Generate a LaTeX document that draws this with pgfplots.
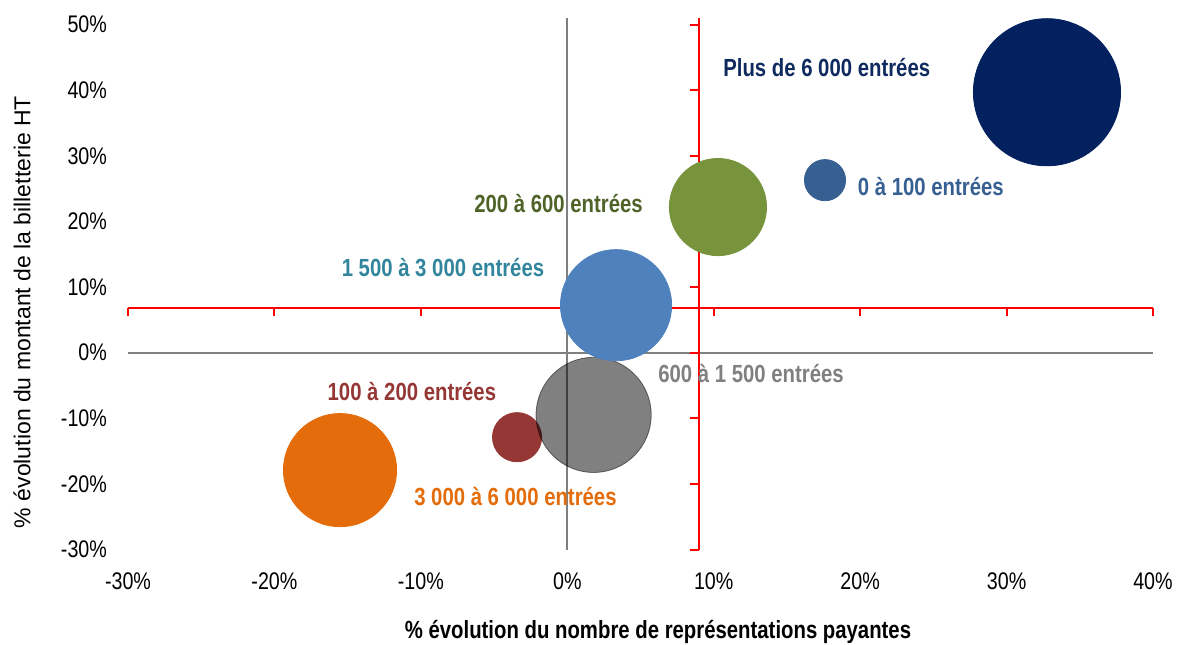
\documentclass[border=0pt]{standalone}
\usepackage{fontspec}
\setmainfont{Liberation Sans}[FakeStretch=0.82]
\newfontfamily\widesans{Liberation Sans}
\usepackage{pgfplots}
\pgfplotsset{compat=1.18}
\usetikzlibrary{calc}

\definecolor{navyb}{HTML}{03215F}
\definecolor{smallb}{HTML}{376092}
\definecolor{greenb}{HTML}{77933C}
\definecolor{blueb}{HTML}{4F81BD}
\definecolor{grayb}{HTML}{808080}
\definecolor{redb}{HTML}{953735}
\definecolor{orangeb}{HTML}{E46C0A}
\definecolor{greentxt}{HTML}{4F6228}
\definecolor{tealtxt}{HTML}{31859C}
\definecolor{navytxt}{HTML}{0F2A5E}
\definecolor{axgray}{HTML}{808080}

\begin{document}
\begin{tikzpicture}
\begin{axis}[
    scale only axis,
    width=512.5pt, height=265.7pt,
    xmin=-30, xmax=40, ymin=-30, ymax=51,
    clip=false,
    axis x line*=bottom, axis y line*=left,
    axis line style={draw=none},
    tick style={draw=none},
    xtick={-30,-20,...,40},
    xticklabels={-30\%,-20\%,-10\%,0\%,10\%,20\%,30\%,40\%},
    ytick={-30,-20,...,50},
    yticklabels={-30\%,-20\%,-10\%,0\%,10\%,20\%,30\%,40\%,50\%},
    tick label style={font=\fontsize{12}{14}\selectfont, text=black},
    xticklabel style={anchor=center},
    xticklabel shift=16pt,
    yticklabel shift=7pt,
]
% reference lines (gray: primary axes, red: secondary axes)
\addplot[axgray, line width=1pt] coordinates {(-30,0) (40,0)};
\addplot[axgray, line width=1pt] coordinates {(0,-30) (0,51)};
\addplot[red, line width=1pt] coordinates {(-30,6.8) (40,6.8)};
\addplot[red, line width=1pt] coordinates {(9,-30) (9,51)};
\pgfplotsinvokeforeach{-30,-20,...,40}{
  \draw[red, line width=1pt] (axis cs:#1,6.8) -- ++(0pt,-4pt);
}
\pgfplotsinvokeforeach{-30,-20,...,50}{
  \draw[red, line width=1pt] (axis cs:9,#1) -- ++(-4.5pt,0pt);
}

% bubbles
\addplot[only marks, mark=*, mark size=12.3pt, color=redb] coordinates {(-3.43,-12.88)};
\addplot[only marks, mark=*, mark size=28.8pt, color=grayb, mark options={blend mode=multiply}] coordinates {(1.80,-9.48)};
\addplot[only marks, mark=*, mark size=28.3pt, color=orangeb] coordinates {(-15.52,-17.9)};
\addplot[only marks, mark=*, mark size=27.8pt, color=blueb] coordinates {(3.33,7.24)};
\addplot[only marks, mark=*, mark size=24.3pt, color=greenb] coordinates {(10.29,22.2)};
\addplot[only marks, mark=*, mark size=10.3pt, color=smallb] coordinates {(17.6,26.3)};
\addplot[only marks, mark=*, mark size=36.8pt, color=navyb] coordinates {(32.76,39.7)};

% bubble labels
\begin{scope}[every node/.style={font=\bfseries\fontsize{12.4}{14}\selectfont, anchor=center, inner sep=0pt}]
\node[text=navytxt] at (axis cs:17.72,43.4) {Plus de 6 000 entrées};
\node[text=smallb] at (axis cs:24.83,25.4) {0 à 100 entrées};
\node[text=greentxt] at (axis cs:-0.60,22.8) {200 à 600 entrées};
\node[text=tealtxt] at (axis cs:-8.49,13.0) {1 500 à 3 000 entrées};
\node[text=grayb] at (axis cs:12.55,-3.1) {600 à 1 500 entrées};
\node[text=redb] at (axis cs:-10.61,-5.9) {100 à 200 entrées};
\node[text=orangeb] at (axis cs:-3.54,-21.9) {3 000 à 6 000 entrées};
\end{scope}

\coordinate (sw) at (rel axis cs:0,0);
\end{axis}
\node[font=\bfseries\fontsize{12.4}{15}\selectfont, text=black] at ($(sw)+(265pt,-41.25pt)$) {\% évolution du nombre de représentations payantes};
\node[font=\widesans\fontsize{11.5}{14}\selectfont, text=black, rotate=90] at ($(sw)+(-53pt,118.75pt)$) {\% évolution du montant de la billetterie HT};
\pgfresetboundingbox
\path[use as bounding box] ($(sw)+(-64pt,-47.25pt)$) rectangle ++(589pt,322pt);
\end{tikzpicture}
\end{document}
